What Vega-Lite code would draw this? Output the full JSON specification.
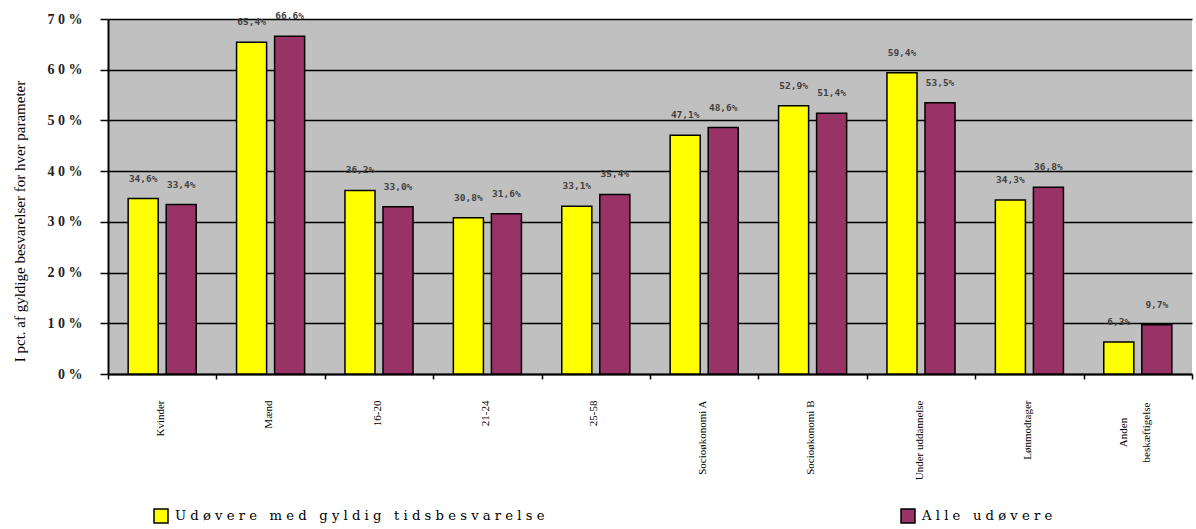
{
  "$schema": "https://vega.github.io/schema/vega-lite/v6.json",
  "width": 1084,
  "height": 355,
  "autosize": {"type": "none"},
  "padding": {"left": 108, "top": 19, "right": 4, "bottom": 155},
  "background": "white",
  "config": {
    "locale": {"number": {"decimal": ",", "thousands": ".", "grouping": [3], "currency": ["", " kr."]}},
    "view": {"fill": "#c0c0c0", "stroke": null}
  },
  "data": {
    "values": [
      {"kategori": "Kvinder", "serie": "Udøvere med gyldig tidsbesvarelse", "andel": 0.346},
      {"kategori": "Kvinder", "serie": "Alle udøvere", "andel": 0.334},
      {"kategori": "Mænd", "serie": "Udøvere med gyldig tidsbesvarelse", "andel": 0.654},
      {"kategori": "Mænd", "serie": "Alle udøvere", "andel": 0.666},
      {"kategori": "16-20", "serie": "Udøvere med gyldig tidsbesvarelse", "andel": 0.362},
      {"kategori": "16-20", "serie": "Alle udøvere", "andel": 0.330},
      {"kategori": "21-24", "serie": "Udøvere med gyldig tidsbesvarelse", "andel": 0.308},
      {"kategori": "21-24", "serie": "Alle udøvere", "andel": 0.316},
      {"kategori": "25-58", "serie": "Udøvere med gyldig tidsbesvarelse", "andel": 0.331},
      {"kategori": "25-58", "serie": "Alle udøvere", "andel": 0.354},
      {"kategori": "Socioøkonomi A", "serie": "Udøvere med gyldig tidsbesvarelse", "andel": 0.471},
      {"kategori": "Socioøkonomi A", "serie": "Alle udøvere", "andel": 0.486},
      {"kategori": "Socioøkonomi B", "serie": "Udøvere med gyldig tidsbesvarelse", "andel": 0.529},
      {"kategori": "Socioøkonomi B", "serie": "Alle udøvere", "andel": 0.514},
      {"kategori": "Under uddannelse", "serie": "Udøvere med gyldig tidsbesvarelse", "andel": 0.594},
      {"kategori": "Under uddannelse", "serie": "Alle udøvere", "andel": 0.535},
      {"kategori": "Lønmodtager", "serie": "Udøvere med gyldig tidsbesvarelse", "andel": 0.343},
      {"kategori": "Lønmodtager", "serie": "Alle udøvere", "andel": 0.368},
      {"kategori": "Anden beskæftigelse", "serie": "Udøvere med gyldig tidsbesvarelse", "andel": 0.063},
      {"kategori": "Anden beskæftigelse", "serie": "Alle udøvere", "andel": 0.097}
    ]
  },
  "encoding": {
    "x": {
      "field": "kategori",
      "type": "nominal",
      "sort": null,
      "scale": {"paddingInner": 0, "paddingOuter": 0},
      "axis": {
        "title": null,
        "tickBand": "extent",
        "ticks": true,
        "tickColor": "black",
        "tickSize": 5,
        "tickWidth": 1.5,
        "domainColor": "black",
        "domainWidth": 2,
        "labelAngle": -90,
        "labelAlign": {"condition": {"test": "datum.value == 'Anden beskæftigelse'", "value": "center"}, "value": "right"},
        "labelBaseline": "middle",
        "labelFont": "Liberation Serif",
        "labelFontSize": 11,
        "labelColor": "black",
        "labelPadding": {"condition": {"test": "datum.value == 'Anden beskæftigelse'", "value": 53}, "value": 21},
        "labelOffset": {"condition": {"test": "datum.value == 'Anden beskæftigelse'", "value": -14}, "value": -2},
        "labelLineHeight": 23,
        "labelOverlap": false,
        "labelExpr": "datum.value == 'Anden beskæftigelse' ? ['Anden', 'beskæftigelse'] : datum.label"
      }
    },
    "xOffset": {
      "field": "serie",
      "type": "nominal",
      "sort": ["Udøvere med gyldig tidsbesvarelse", "Alle udøvere"],
      "scale": {"paddingInner": 0.21, "paddingOuter": 0.53}
    },
    "y": {
      "field": "andel",
      "type": "quantitative",
      "scale": {"domain": [0, 0.7], "nice": false},
      "axis": {
        "values": [0, 0.1, 0.2, 0.3, 0.4, 0.5, 0.6, 0.7],
        "format": ".0%",
        "labelExpr": "join(split(datum.label, ''), ' ')",
        "grid": true,
        "gridColor": "black",
        "gridWidth": 1.5,
        "gridOpacity": 1,
        "domainColor": "black",
        "domainWidth": 2,
        "tickColor": "black",
        "tickSize": 8,
        "tickWidth": 1.5,
        "labelFont": "Liberation Serif",
        "labelFontSize": 14,
        "labelFontWeight": "bold",
        "labelColor": "#222222",
        "labelPadding": 18,
        "title": "I pct. af gyldige besvarelser for hver parameter",
        "titleFont": "Liberation Serif",
        "titleFontSize": 15,
        "titleFontWeight": "normal",
        "titleColor": "black",
        "titlePadding": 20,
        "titleY": 202
      }
    }
  },
  "layer": [
    {
      "mark": {"type": "bar", "stroke": "black", "strokeWidth": 1.5},
      "encoding": {
        "color": {
          "field": "serie",
          "type": "nominal",
          "sort": ["Udøvere med gyldig tidsbesvarelse", "Alle udøvere"],
          "scale": {"domain": ["Udøvere med gyldig tidsbesvarelse", "Alle udøvere"], "range": ["#ffff00", "#993366"]},
          "legend": {
            "title": null,
            "orient": "none",
            "legendX": 45,
            "legendY": 489,
            "direction": "horizontal",
            "padding": 0,
            "symbolType": "square",
            "symbolSize": 196,
            "symbolStrokeColor": "black",
            "symbolStrokeWidth": 1.5,
            "symbolOpacity": 1,
            "labelFont": "DejaVu Serif",
            "labelFontSize": 13.2,
            "labelColor": "black",
            "labelOffset": 6,
            "labelLimit": 1000,
            "columnPadding": 353,
            "labelExpr": "join(split(datum.label, ''), '\u00a0')"
          }
        }
      }
    },
    {
      "mark": {"type": "text", "dy": -20, "align": "center", "baseline": "middle", "font": "DejaVu Sans Mono", "fontWeight": "bold", "fontSize": 9.5, "fill": "#404040"},
      "encoding": {
        "text": {"field": "andel", "type": "quantitative", "format": ".1%"}
      }
    }
  ]
}
